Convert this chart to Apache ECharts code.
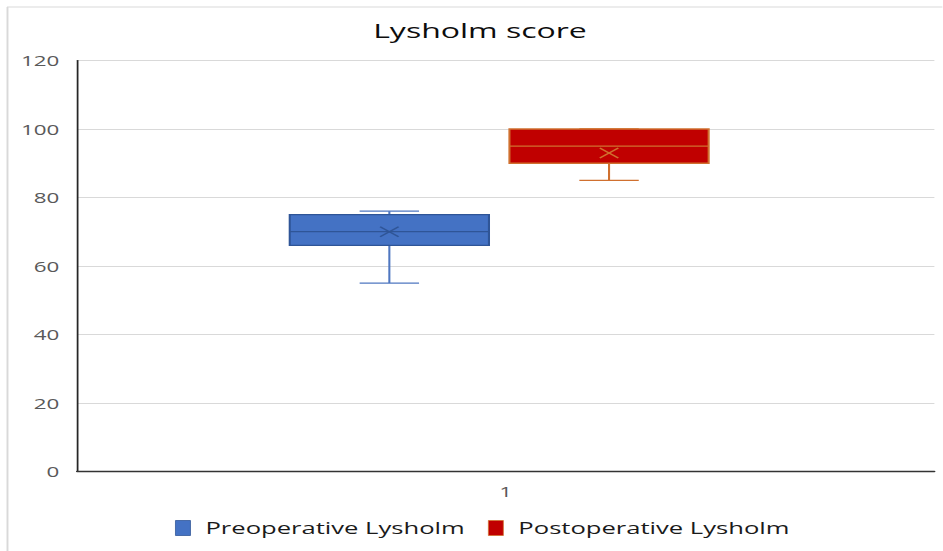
<!DOCTYPE html>
<html>
<head>
<meta charset="utf-8">
<title>Lysholm score</title>
<script src="https://cdn.jsdelivr.net/npm/echarts@6/dist/echarts.min.js"></script>
<style>
  html, body { margin: 0; padding: 0; background: #fff; overflow: hidden; }
  #wrap { width: 943px; height: 551px; overflow: hidden; }
  /* the chart is drawn in a narrower box and widened, giving the wide lettering */
  #chart { width: 589.375px; height: 551px; transform: scaleX(1.6); transform-origin: 0 0; }
</style>
</head>
<body>
<div id="wrap"><div id="chart"></div></div>
<script>
// ---- data ----
const categories = ['1'];
const seriesNames = ['Preoperative Lysholm', 'Postoperative Lysholm'];
// [min, Q1, median, Q3, max]
const preStats = [55, 66, 70, 75, 76];
const postStats = [85, 90, 95, 100, 100];
const meanValues = [70, 93];
const yMin = 0, yMax = 120, yStep = 20;

// ---- layout helpers (horizontal stretch factor of the container) ----
const SX = 1.6;
const X = px => px / SX;
const W = 943 / SX;

const fill = ['#4472C4', '#C00000'];
const edge = ['#2F5597', '#D0702F'];
const whisk = ['#4F77C0', '#D0702F'];

const BOX_RATIO = 199.5 / 220;
const CAP_RATIO = 59.5 / 220;

function renderBox(params, api) {
  const idx = params.seriesIndex;
  const c = api.value(0);
  const vMin = api.value(1), q1 = api.value(2), med = api.value(3), q3 = api.value(4), vMax = api.value(5), mean = api.value(6);
  const band = api.size([1, 0])[0];
  const half = band * BOX_RATIO / 2;
  const capHalf = band * CAP_RATIO / 2;
  const cx = api.coord([c, med])[0];
  const y = v => api.coord([c, v])[1];
  const lw = 1.3;
  const lineStyle = { stroke: whisk[idx], lineWidth: lw };
  const mx = X(18.5) / 2, my = 5;
  const yMean = y(mean);
  return {
    type: 'group',
    children: [
      { type: 'line', shape: { x1: cx, y1: y(q3), x2: cx, y2: y(vMax) }, style: lineStyle },
      { type: 'line', shape: { x1: cx, y1: y(q1), x2: cx, y2: y(vMin) }, style: lineStyle },
      { type: 'line', shape: { x1: cx - capHalf, y1: y(vMax), x2: cx + capHalf, y2: y(vMax) }, style: lineStyle },
      { type: 'line', shape: { x1: cx - capHalf, y1: y(vMin), x2: cx + capHalf, y2: y(vMin) }, style: lineStyle },
      { type: 'rect', shape: { x: cx - half, y: y(q3), width: half * 2, height: y(q1) - y(q3) },
        style: { fill: fill[idx], stroke: edge[idx], lineWidth: lw } },
      { type: 'line', shape: { x1: cx - half, y1: y(med), x2: cx + half, y2: y(med) },
        style: { stroke: edge[idx], lineWidth: lw } },
      { type: 'line', shape: { x1: cx - mx, y1: yMean - my, x2: cx + mx, y2: yMean + my },
        style: { stroke: edge[idx], lineWidth: 1.2 } },
      { type: 'line', shape: { x1: cx - mx, y1: yMean + my, x2: cx + mx, y2: yMean - my },
        style: { stroke: edge[idx], lineWidth: 1.2 } }
    ]
  };
}

const statsList = [preStats, postStats];

const chart = echarts.init(document.getElementById('chart'), null, { renderer: 'svg' });
const gridTop = 60.5, gridBottom = 551 - 471.4;

chart.setOption({
  animation: false,
  textStyle: { fontFamily: 'Open Sans' },
  title: {
    text: 'Lysholm score',
    left: X(472), top: 15,
    textAlign: 'center',
    textStyle: { fontFamily: 'Open Sans', fontSize: 20, fontWeight: 'normal', color: '#0D0D0D' }
  },
  legend: {
    data: seriesNames.map((n, i) => ({
      name: n, icon: 'rect',
      itemStyle: { color: fill[i], borderColor: edge[i], borderWidth: 0.6 }
    })),
    left: X(167), top: 515,
    itemWidth: X(15), itemHeight: 15, itemGap: X(23),
    textStyle: { fontFamily: 'Open Sans', fontSize: 16, color: '#1A1A1A', padding: [0, 0, 0, X(7)] },
    selectedMode: false
  },
  graphic: [
    { type: 'line', shape: { x1: X(7), y1: 7, x2: W, y2: 7 }, style: { stroke: '#D9D9D9', lineWidth: 1.2 }, silent: true },
    { type: 'line', shape: { x1: X(7.5), y1: 7, x2: X(7.5), y2: 551 }, style: { stroke: '#D9D9D9', lineWidth: 1.2 }, silent: true }
  ],
  grid: [
    { left: X(77), right: X(8), top: gridTop, bottom: gridBottom },
    { left: X(279.5), right: W - X(719.5), top: gridTop, bottom: gridBottom }
  ],
  xAxis: [
    {
      type: 'category', gridIndex: 0, data: categories,
      axisLine: { show: true, lineStyle: { color: '#333', width: 1.3 } },
      axisTick: { show: false },
      axisLabel: { color: '#595959', fontSize: 14, margin: 13, fontFamily: 'Open Sans' }
    },
    {
      type: 'category', gridIndex: 1, data: seriesNames,
      show: false
    }
  ],
  yAxis: [
    {
      type: 'value', gridIndex: 0, min: yMin, max: yMax, interval: yStep,
      axisLine: { show: true, lineStyle: { color: '#262626', width: 1.1 } },
      axisTick: { show: false },
      axisLabel: { color: '#595959', fontSize: 14, margin: X(17.7), fontFamily: 'Open Sans' },
      splitLine: { lineStyle: { color: '#D9D9D9', width: 1 } }
    },
    {
      type: 'value', gridIndex: 1, min: yMin, max: yMax, interval: yStep, show: false,
      splitLine: { show: false }
    }
  ],
  series: seriesNames.map((name, i) => ({
    name: name,
    type: 'custom',
    xAxisIndex: 1, yAxisIndex: 1,
    itemStyle: { color: fill[i], borderColor: edge[i] },
    encode: { x: 0, y: [1, 2, 3, 4, 5] },
    renderItem: renderBox,
    data: [[i].concat(statsList[i], [meanValues[i]])]
  }))
});
</script>
</body>
</html>
